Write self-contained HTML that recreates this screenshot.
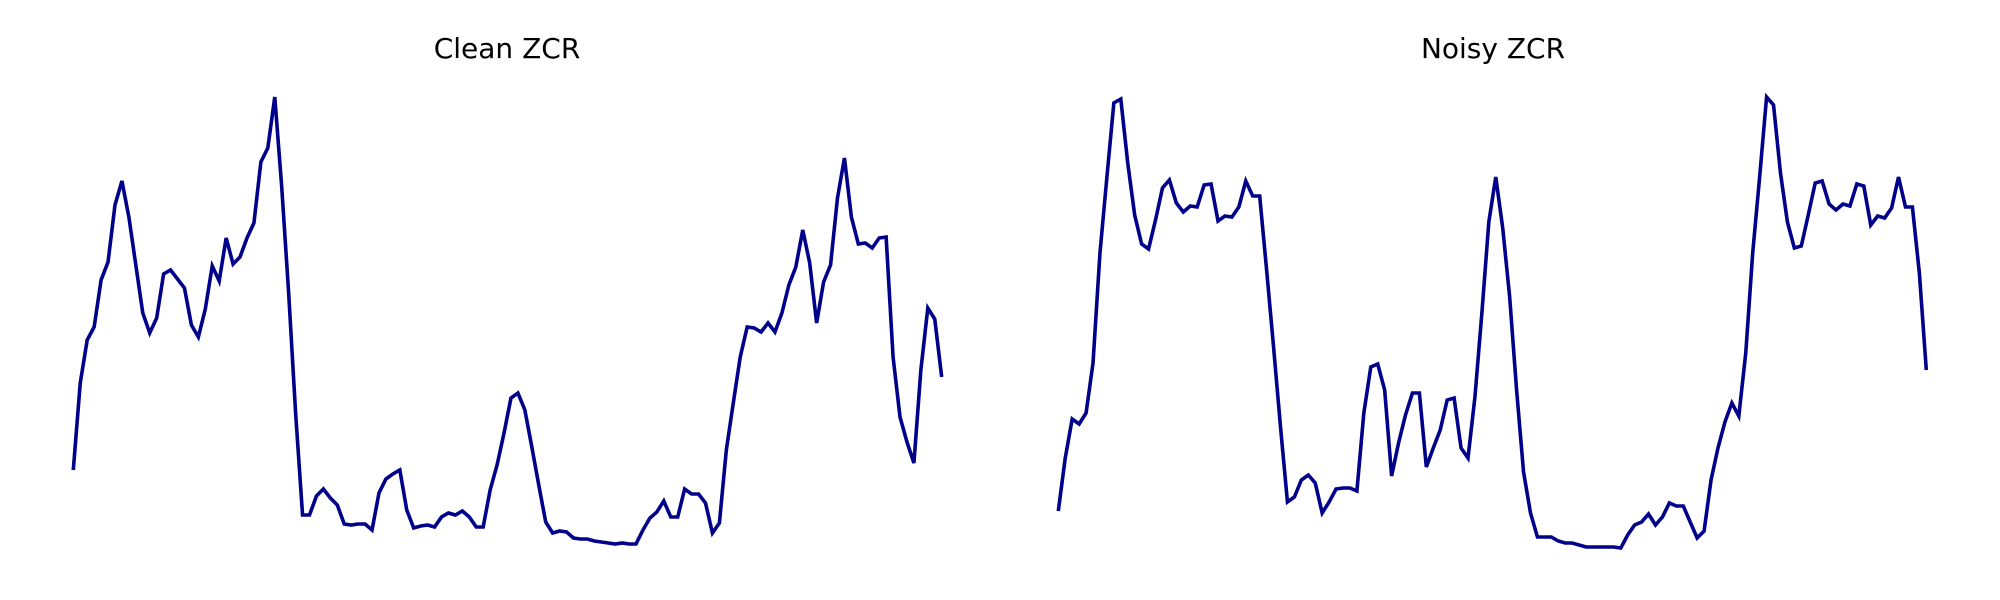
<!DOCTYPE html>
<html>
<head>
<meta charset="utf-8">
<style>
  html,body{margin:0;padding:0;background:#fff;}
  svg{display:block;}
  .title{font-family:"DejaVu Sans","Liberation Sans",sans-serif;font-size:28px;fill:#000;}
</style>
</head>
<body>
<svg id="chart" width="2000" height="600" viewBox="0 0 2000 600" xmlns="http://www.w3.org/2000/svg">
  <g>
    <text class="title" x="507" y="58" text-anchor="middle">Clean ZCR</text>
    <polyline id="cleanLine" fill="none" stroke="#00008b" stroke-width="3.6" stroke-linejoin="miter"/>
  </g>
  <g>
    <text class="title" x="1493" y="58" text-anchor="middle">Noisy ZCR</text>
    <polyline id="noisyLine" fill="none" stroke="#00008b" stroke-width="3.6" stroke-linejoin="miter"/>
  </g>
</svg>
<script>
// ZCR values per frame (x1000)
const cleanZcrMilli = [
80,167,210,223,270,288,345,369,333,285,237,217,232,276,280,271,262,225,213,241,284,269,312,286,293,312,327,388,402,453,363,257,137,35,35,54,61,52,45,26,25,26,
26,20,57,71,76,80,40,22,24,25,23,33,37,35,39,33,23,23,60,85,117,152,157,140,103,65,28,17,19,18,12,11,11,
9,8,7,6,7,6,6,
20,32,38,49,33,33,61,56,56,47,17,27,100,147,193,223,222,218,227,218,237,265,283,320,287,227,268,285,352,392,333,306,307,302,312,313,193,133,108,87,180,242,231,173
];
const noisyZcrMilli = [
39,92,131,126,137,187,297,373,447,451,387,335,306,301,330,362,370,347,338,344,343,365,366,329,334,333,343,369,354,354,280,203,123,48,53,70,75,67,37,48,61,62,
62,59,137,183,186,160,74,107,135,157,157,83,102,120,150,152,102,92,153,237,328,373,322,253,160,78,37,13,13,13,9,7,7,5,3,3,3,3,3,2,15,25,
28,36,25,33,47,44,44,28,12,19,70,102,128,147,134,197,297,373,453,445,377,328,302,304,335,367,369,346,340,346,344,366,364,325,334,332,342,373,343,343,277,180
];

function yScale(v){ return 550 - v; }
function makeXScale(x0, x1, n){ return i => x0 + (x1 - x0) * i / (n - 1); }

function draw(id, data, x0, x1){
  const xs = makeXScale(x0, x1, data.length);
  const pts = data.map((v,i) => xs(i).toFixed(2) + ',' + yScale(v).toFixed(2)).join(' ');
  document.getElementById(id).setAttribute('points', pts);
}
draw('cleanLine', cleanZcrMilli, 73.3, 941.7);
draw('noisyLine', noisyZcrMilli, 1058.3, 1926.3);
</script>
</body>
</html>
